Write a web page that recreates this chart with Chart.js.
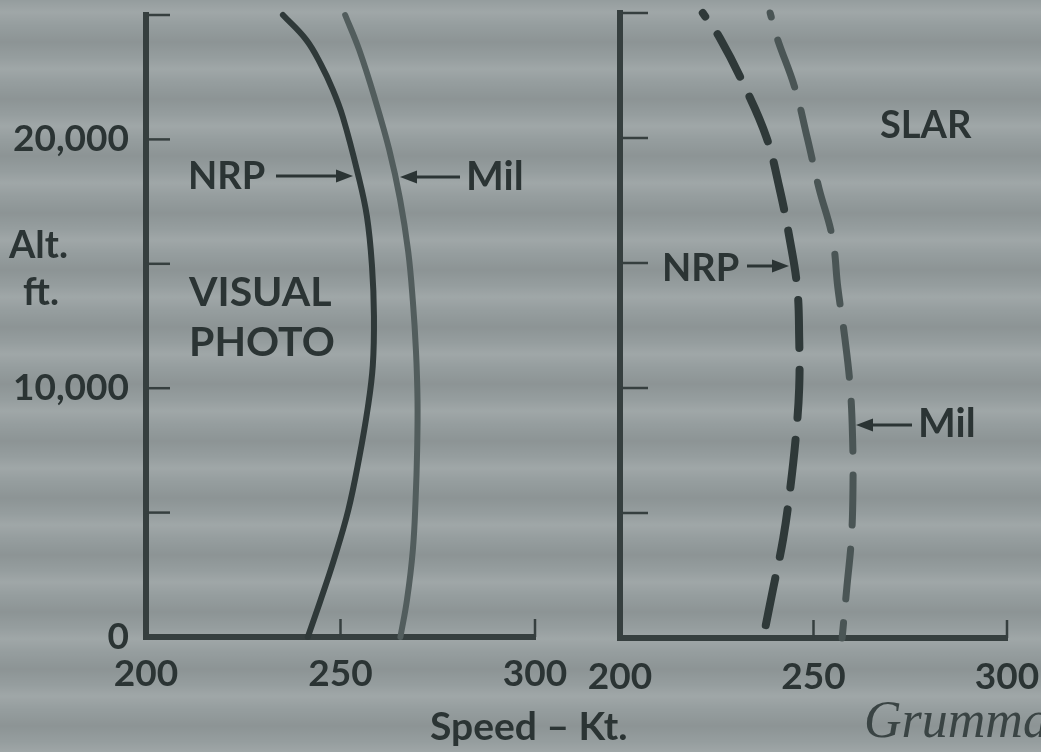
<!DOCTYPE html>
<html><head><meta charset="utf-8">
<script src="https://cdn.jsdelivr.net/npm/chart.js@4.4.1/dist/chart.umd.min.js"></script>
<style>
html,body{margin:0;padding:0;width:1041px;height:752px;overflow:hidden;}
body{background-color:#959d9e;
background-image:repeating-linear-gradient(180deg, rgba(255,255,255,0) 0px, rgba(255,255,255,0.10) 12px, rgba(255,255,255,0) 26px, rgba(0,0,0,0.06) 42px, rgba(255,255,255,0) 57px);}
canvas{position:absolute;left:0;top:0;}
</style></head><body>
<canvas id="left" width="1041" height="752"></canvas>
<canvas id="right" width="1041" height="752"></canvas>
<script>
// ---- data ----
const xTickValues = [200, 250, 300];
const yTickValues = [0, 5000, 10000, 15000, 20000, 25000];
const yLabelValues = [0, 10000, 20000];

const visualNrpAlt   = [25000, 24000, 23000, 22000, 20900, 18600, 16900, 14900, 12900, 10900, 9200, 7200, 5100, 3100, 1400, 0];
const visualNrpSpeed = [235.2, 241.2, 245.0, 248.0, 250.6, 254.5, 256.8, 258.1, 258.6, 258.3, 257.0, 254.8, 252.0, 248.3, 244.7, 241.6];
const visualMilAlt   = [25000, 23600, 21600, 19600, 17600, 15500, 13500, 11500, 9500, 7500, 5500, 3500, 1500, 0];
const visualMilSpeed = [251.2, 254.8, 258.9, 262.5, 265.3, 267.4, 268.6, 269.4, 269.8, 269.7, 269.3, 268.6, 267.1, 265.4];
const slarNrpAlt     = [25000, 24000, 22000, 20000, 18000, 16000, 14000, 12000, 10000, 8000, 6000, 4000, 2000, 0];
const slarNrpSpeed   = [221.4, 225.8, 232.4, 237.9, 241.2, 243.8, 245.8, 246.3, 246.3, 245.4, 244.0, 242.2, 239.6, 237.0];
const slarMilAlt     = [25000, 24000, 22000, 20000, 18000, 16000, 14000, 12000, 10000, 8000, 6000, 4000, 2000, 0];
const slarMilSpeed   = [238.8, 240.6, 245.2, 248.4, 251.4, 254.9, 256.3, 258.1, 259.5, 260.1, 260.2, 259.8, 258.6, 257.4];

// ---- styles ----
const TEXT = '#2b3434';
const AXIS = '#363f3f';
const DARK = '#2f3939';
const LIGHT = '#525d5d';
const FONT = "Lato, 'Open Sans', sans-serif";
const WEIGHT = 'bold';

function pts(alt, spd){ return alt.map((a,i)=>({x:spd[i], y:a})); }

function arrow(ctx, x1, y, x2){
  const d = Math.sign(x2 - x1);
  ctx.save();
  ctx.strokeStyle = TEXT; ctx.fillStyle = TEXT; ctx.lineWidth = 3;
  ctx.beginPath(); ctx.moveTo(x1, y); ctx.lineTo(x2 - d*12, y); ctx.stroke();
  ctx.beginPath(); ctx.moveTo(x2, y); ctx.lineTo(x2 - d*17, y - 6.5); ctx.lineTo(x2 - d*17, y + 6.5); ctx.closePath(); ctx.fill();
  ctx.restore();
}
function txt(ctx, s, x, y, size, align){
  ctx.save();
  ctx.fillStyle = TEXT;
  ctx.font = WEIGHT + ' ' + size + 'px ' + FONT;
  ctx.textAlign = align || 'left';
  ctx.textBaseline = 'alphabetic';
  ctx.fillText(s, x, y);
  ctx.restore();
}

const innerTicks = {
  id: 'innerTicks',
  afterDatasetsDraw(chart, args, o){
    const {ctx} = chart; const x = chart.scales.x, y = chart.scales.y;
    ctx.save();
    ctx.strokeStyle = AXIS; ctx.lineWidth = 2.5;
    yTickValues.forEach(v => {
      if (v === y.min) return;
      const py = y.getPixelForValue(v);
      ctx.beginPath(); ctx.moveTo(x.left, py); ctx.lineTo(x.left + o.yLen, py); ctx.stroke();
    });
    xTickValues.forEach(v => {
      if (v === x.min) return;
      const px = x.getPixelForValue(v);
      ctx.beginPath(); ctx.moveTo(px, y.bottom); ctx.lineTo(px, y.bottom - o.xLen); ctx.stroke();
    });
    ctx.restore();
  }
};

function makeChart(id, cfg){
  return new Chart(document.getElementById(id), {
    type: 'line',
    data: { datasets: cfg.datasets },
    options: {
      responsive: false, animation: false,
      layout: { padding: { left: 0, top: cfg.top, right: 1041 - cfg.right, bottom: 0 } },
      plugins: { legend: {display:false}, tooltip: {enabled:false}, innerTicks: { yLen: cfg.yLen, xLen: 18 } },
      elements: { point: { radius: 0 } },
      scales: {
        x: {
          type: 'linear', min: 200, max: 300,
          afterBuildTicks: s => { s.ticks = xTickValues.map(v => ({value: v})); },
          afterFit: s => { s.height = 752 - cfg.bottom; s.paddingLeft = 0; s.paddingRight = 0; },
          grid: { display: false },
          border: { display: true, color: AXIS, width: 6 },
          ticks: { autoSkip: false, maxRotation: 0, padding: cfg.xPad, color: TEXT,
                   font: { family: FONT, weight: WEIGHT, size: 37 },
                   callback: v => String(v) }
        },
        y: {
          type: 'linear', min: 0, max: 25000,
          afterBuildTicks: s => { s.ticks = yLabelValues.map(v => ({value: v})); },
          ticks: { autoSkip: false, display: cfg.yLabels, padding: 9, color: TEXT,
                   font: { family: FONT, weight: WEIGHT, size: 37 },
                   callback: v => v.toLocaleString('en-US') },
          afterFit: s => { s.width = cfg.left; s.paddingTop = 0; s.paddingBottom = 0; },
          grid: { display: false },
          border: { display: true, color: AXIS, width: 6 }
        }
      }
    },
    plugins: [innerTicks, { id: 'notes', afterDraw: cfg.notes }]
  });
}

function draw(){
  makeChart('left', {
    left: 146, right: 535, top: 15, bottom: 637, yLen: 24, yLabels: true, xPad: 7,
    datasets: [
      { data: pts(visualNrpAlt, visualNrpSpeed), borderColor: DARK, borderWidth: 6, tension: 0.4, clip: false, borderCapStyle: 'round' },
      { data: pts(visualMilAlt, visualMilSpeed), borderColor: LIGHT, borderWidth: 6, tension: 0.4, clip: false, borderCapStyle: 'round' }
    ],
    notes: chart => {
      const c = chart.ctx;
      txt(c, 'NRP', 188, 189, 38);
      arrow(c, 276, 176, 353);
      txt(c, 'Mil', 466, 190, 40);
      arrow(c, 460, 177, 400);
      txt(c, 'VISUAL', 189, 306, 41);
      txt(c, 'PHOTO', 189, 356, 41);
      txt(c, 'Alt.', 9, 258, 38);
      txt(c, 'ft.', 23, 305, 38);
    }
  });
  makeChart('right', {
    left: 620, right: 1007, top: 13, bottom: 638, yLen: 28, yLabels: false, xPad: 9,
    datasets: [
      { data: pts(slarNrpAlt, slarNrpSpeed), borderColor: DARK, borderWidth: 8, tension: 0.4, clip: false,
        borderCapStyle: 'round', borderDash: [48, 22], borderDashOffset: 44 },
      { data: pts(slarMilAlt, slarMilSpeed), borderColor: '#4a5555', borderWidth: 7, tension: 0.4, clip: false,
        borderCapStyle: 'round', borderDash: [50, 24], borderDashOffset: 46 }
    ],
    notes: chart => {
      const c = chart.ctx;
      txt(c, 'SLAR', 880, 138, 38);
      txt(c, 'NRP', 662, 281, 38);
      arrow(c, 747, 266, 789);
      txt(c, 'Mil', 918, 437, 40);
      arrow(c, 912, 425, 856);
      txt(c, 'Speed \u2013 Kt.', 430, 740, 39);
      c.save();
      c.fillStyle = '#3a4444';
      c.font = "italic 52px 'Liberation Serif', 'DejaVu Serif', serif";
      c.fillText('Grumman', 864, 737);
      c.restore();
    }
  });
}

const fontsToLoad = ["bold 40px Lato", "italic 50px 'Liberation Serif'"];
if (document.fonts && document.fonts.load) {
  Promise.all(fontsToLoad.map(f => document.fonts.load(f).catch(()=>null))).then(draw, draw);
} else { draw(); }
</script>
</body></html>
